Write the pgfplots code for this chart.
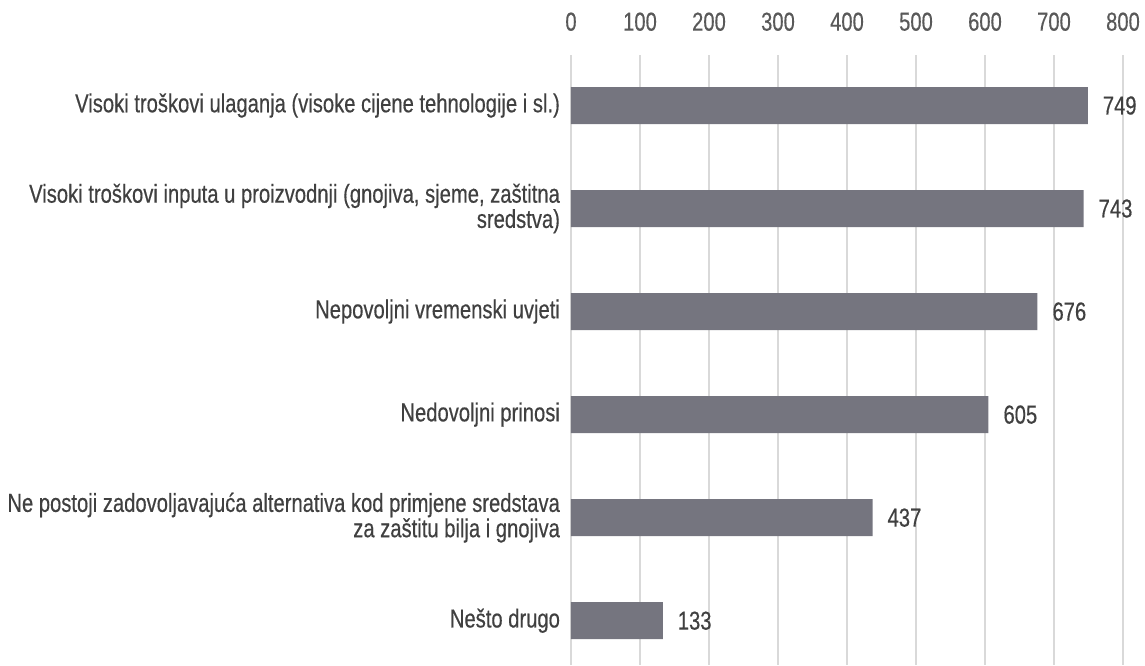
\documentclass[border=0pt]{standalone}
\usepackage{fontspec}
\setmainfont{Liberation Sans}[FakeStretch=0.777, FakeBold=0.4]
\usepackage{pgfplots}
\pgfplotsset{compat=1.18}
\definecolor{barcol}{HTML}{75757F}
\definecolor{gridcol}{HTML}{D9D9D9}
\definecolor{txt}{HTML}{404040}
\definecolor{tickcol}{HTML}{595959}
\newcommand\lblfont{\fontsize{13}{12}\selectfont}
\begin{document}
\begin{tikzpicture}[x=1pt,y=1pt]
\useasboundingbox (-285.5,0) rectangle (287,332.5);
\begin{axis}[
    at={(0,0)}, anchor=south west,
    scale only axis,
    width=276pt, height=305pt,
    xbar, bar width=18.5pt,
    xmin=0, xmax=800,
    xtick={0,100,...,800},
    ymin=-0.49, ymax=5.43,
    y dir=reverse,
    ytick={0,...,5},
    yticklabels={
        Visoki troškovi ulaganja (visoke cijene tehnologije i sl.),
        {Visoki troškovi inputa u proizvodnji (gnojiva, sjeme, zaštitna\\[-0.5pt]sredstva)},
        Nepovoljni vremenski uvjeti,
        Nedovoljni prinosi,
        {Ne postoji zadovoljavajuća alternativa kod primjene sredstava\\[-0.5pt]za zaštitu bilja i gnojiva},
        Nešto drugo},
    xticklabel pos=upper,
    axis line style={draw=none},
    major tick length=0pt,
    xmajorgrids,
    grid style={gridcol, line width=0.75pt},
    /pgf/number format/assume math mode=true,
    tick label style={font=\lblfont},
    xticklabel style={text=tickcol, yshift=8.5pt},
    yticklabel style={text=txt, align=right, xshift=-2pt},
    nodes near coords,
    nodes near coords style={text=txt, font=\lblfont, xshift=4pt},
]
\addplot[fill=barcol, draw=none] coordinates {
    (749,0) (743,1) (676,2) (605,3) (437,4) (133,5)
};
\end{axis}
\end{tikzpicture}
\end{document}
